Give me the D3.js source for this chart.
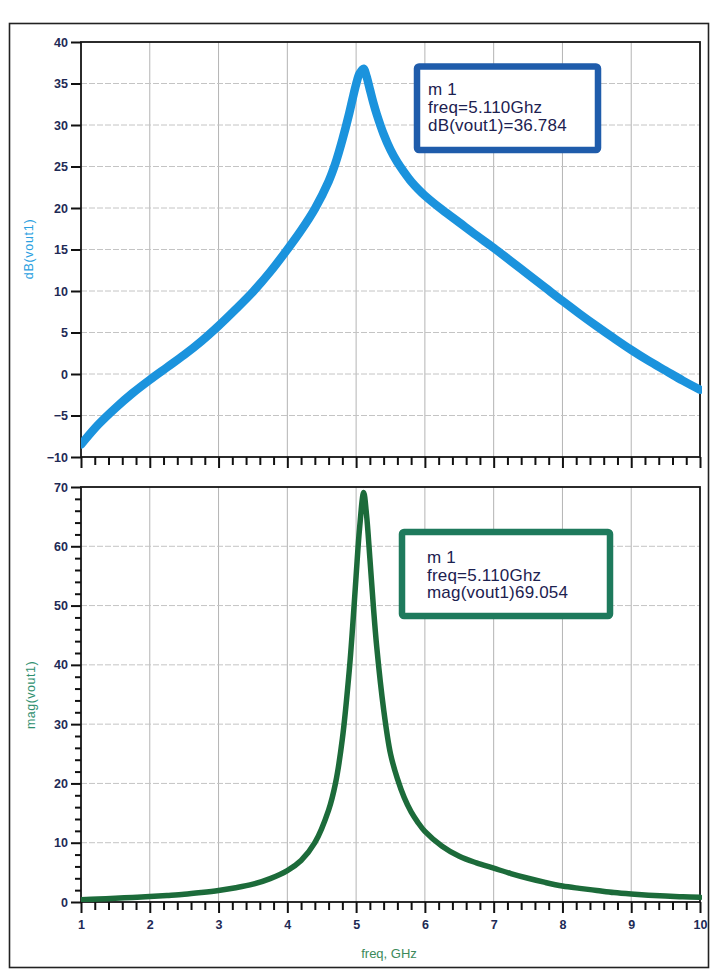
<!DOCTYPE html>
<html>
<head>
<meta charset="utf-8">
<script src="https://cdn.jsdelivr.net/npm/d3@7"></script>
<style>
  html, body { margin: 0; padding: 0; background: #fff; }
  svg { display: block; }
</style>
</head>
<body>
<svg id="chart" width="718" height="971"></svg>
<script>
// ---- data ----
const freqGHz = [1.0, 1.25, 1.5, 1.75, 2.0, 2.25, 2.5, 2.75, 3.0, 3.25, 3.5, 3.75, 4.0, 4.2, 4.4, 4.6, 4.7, 4.8, 4.9, 4.95, 5.0, 5.05, 5.11, 5.15, 5.2, 5.25, 5.3, 5.4, 5.5, 5.6, 5.7, 5.8, 5.9, 6.0, 6.25, 6.5, 6.75, 7.0, 7.25, 7.5, 7.75, 8.0, 8.25, 8.5, 8.75, 9.0, 9.25, 9.5, 9.75, 10.0];
const dbVout1 = [-8.5, -6.1, -4.1, -2.3, -0.7, 0.8, 2.3, 3.95, 5.8, 7.8, 9.9, 12.3, 15.0, 17.3, 19.9, 23.2, 25.4, 28.2, 31.4, 33.2, 34.9, 36.2, 36.784, 35.9, 34.3, 32.7, 31.3, 28.9, 27.0, 25.5, 24.3, 23.2, 22.3, 21.5, 19.8, 18.25, 16.7, 15.2, 13.6, 12.0, 10.4, 8.8, 7.25, 5.75, 4.3, 2.9, 1.6, 0.4, -0.8, -1.9];
const magVout1 = [0.38, 0.5, 0.63, 0.77, 0.92, 1.1, 1.3, 1.6, 1.95, 2.4, 3.0, 3.95, 5.3, 7.0, 10.0, 15.5, 20.0, 27.5, 39, 46.5, 55, 63, 69.054, 65.5, 58, 50, 43, 32.5, 25, 20.8, 17.6, 15.2, 13.4, 11.9, 9.4, 7.7, 6.6, 5.7, 4.8, 4.0, 3.3, 2.7, 2.3, 1.95, 1.6, 1.35, 1.15, 1.0, 0.88, 0.8];
const xTicks = [1, 2, 3, 4, 5, 6, 7, 8, 9, 10];
const dbTicks = [-10, -5, 0, 5, 10, 15, 20, 25, 30, 35, 40];
const magTicks = [0, 10, 20, 30, 40, 50, 60, 70];
const marker1Db = ["m 1", "freq=5.110Ghz", "dB(vout1)=36.784"];
const marker1Mag = ["m 1", "freq=5.110Ghz", "mag(vout1)69.054"];
const xLabel = "freq, GHz";
const dbLabel = "dB(vout1)";
const magLabel = "mag(vout1)";

// ---- layout ----
const svg = d3.select("#chart");
const L = 81, R = 700;
const top1 = 42, bot1 = 457;
const top2 = 487, bot2 = 902;
const font = "'Liberation Sans', Arial, sans-serif";
const tickColor = "#1e2a55";

// outer frame
svg.append("rect").attr("x", 9.5).attr("y", 23.5).attr("width", 699).attr("height", 944)
  .attr("fill", "none").attr("stroke", "#222").attr("stroke-width", 1.6);

const x = d3.scaleLinear().domain([1, 10]).range([L, R]);
const y1 = d3.scaleLinear().domain([-10, 40]).range([bot1, top1]);
const y2 = d3.scaleLinear().domain([0, 70]).range([bot2, top2]);

function panel(y, yTicks, yMinorStep, top, bot, showXLabels) {
  const g = svg.append("g");
  // grid
  g.selectAll(".vg").data(xTicks.slice(1, -1)).enter().append("line")
    .attr("x1", d => x(d)).attr("x2", d => x(d)).attr("y1", top).attr("y2", bot)
    .attr("stroke", "#b4b4b4").attr("stroke-width", 1);
  g.selectAll(".hg").data(yTicks.slice(1, -1)).enter().append("line")
    .attr("x1", L).attr("x2", R).attr("y1", d => y(d)).attr("y2", d => y(d))
    .attr("stroke", "#c4c4c4").attr("stroke-width", 1).attr("stroke-dasharray", "6,2");
  // frame
  g.append("rect").attr("x", L).attr("y", top).attr("width", R - L).attr("height", bot - top)
    .attr("fill", "none").attr("stroke", "#151515").attr("stroke-width", 1.8);

  // y axis
  const yAxis = d3.axisLeft(y).tickValues(yTicks).tickSize(10).tickPadding(3);
  const ya = g.append("g").attr("transform", `translate(${L},0)`).call(yAxis);
  ya.select(".domain").remove();
  ya.selectAll(".tick line").attr("stroke", "#111").attr("stroke-width", 2);
  ya.selectAll(".tick text").attr("font-family", font).attr("font-size", 12.5)
    .attr("font-weight", "bold").attr("fill", tickColor);
  if (yMinorStep) {
    const minors = d3.range(y.domain()[0], y.domain()[1] + 0.001, yMinorStep).filter(v => yTicks.indexOf(v) < 0);
    const yMinor = d3.axisLeft(y).tickValues(minors).tickSize(6).tickFormat("");
    const ym = g.append("g").attr("transform", `translate(${L},0)`).call(yMinor);
    ym.select(".domain").remove();
    ym.selectAll(".tick line").attr("stroke", "#111").attr("stroke-width", 2);
  }
  // x axis
  const xAxis = d3.axisBottom(x).tickValues(xTicks).tickSize(11).tickPadding(7)
    .tickFormat(showXLabels ? d3.format("d") : "");
  const xa = g.append("g").attr("transform", `translate(0,${bot})`).call(xAxis);
  xa.select(".domain").remove();
  xa.selectAll(".tick line").attr("stroke", "#111").attr("stroke-width", 2);
  xa.selectAll(".tick text").attr("font-family", font).attr("font-size", 12.5)
    .attr("font-weight", "bold").attr("fill", tickColor);
  const xMinors = d3.range(1, 10.001, 0.2).filter(v => Math.abs(v - Math.round(v)) > 0.01);
  const xm = g.append("g").attr("transform", `translate(0,${bot})`)
    .call(d3.axisBottom(x).tickValues(xMinors).tickSize(8).tickFormat(""));
  xm.select(".domain").remove();
  xm.selectAll(".tick line").attr("stroke", "#111").attr("stroke-width", 2);
  return g;
}

panel(y1, dbTicks, null, top1, bot1, false);
panel(y2, magTicks, 2, top2, bot2, true);

// curves
svg.append("clipPath").attr("id", "c1").append("rect")
  .attr("x", L).attr("y", top1 - 10).attr("width", R - L + 2).attr("height", bot1 - top1 + 10);
svg.append("clipPath").attr("id", "c2").append("rect")
  .attr("x", L).attr("y", top2 - 10).attr("width", R - L + 2).attr("height", bot2 - top2 + 10);

const smooth = d3.curveCatmullRom.alpha(0.5);
const line1 = d3.line().x((d, i) => x(freqGHz[i])).y(d => y1(d)).curve(smooth);
const line2 = d3.line().x((d, i) => x(freqGHz[i])).y(d => y2(d)).curve(smooth);

svg.append("path").datum(dbVout1).attr("d", line1).attr("clip-path", "url(#c1)")
  .attr("fill", "none").attr("stroke", "#1b93dd").attr("stroke-width", 8.5)
  .attr("stroke-linejoin", "round").attr("stroke-linecap", "round");
svg.append("path").datum(magVout1).attr("d", line2).attr("clip-path", "url(#c2)")
  .attr("fill", "none").attr("stroke", "#1c6b3a").attr("stroke-width", 5.5)
  .attr("stroke-linejoin", "round").attr("stroke-linecap", "round");

// marker boxes
function markerBox(bx, by, bw, bh, color, lines, tx, ty0, dy) {
  svg.append("rect").attr("x", bx).attr("y", by).attr("width", bw).attr("height", bh)
    .attr("rx", 2).attr("fill", "#fff").attr("stroke", color).attr("stroke-width", 6.5);
  svg.append("g").selectAll("text").data(lines).enter().append("text")
    .attr("x", tx).attr("y", (d, i) => ty0 + i * dy)
    .attr("font-family", font).attr("font-size", 17).attr("letter-spacing", 0.2)
    .attr("fill", "#1c2150").text(d => d);
}
markerBox(417, 66.5, 181, 83.5, "#1f5cab", marker1Db, 428, 95, 18.2);
markerBox(402, 532, 208, 84, "#1e7a5c", marker1Mag, 427, 563, 17.6);

// axis titles
svg.append("text").attr("transform", "translate(33,249) rotate(-90)")
  .attr("text-anchor", "middle").attr("font-family", font).attr("font-size", 12.5)
  .attr("letter-spacing", 0.7).attr("fill", "#2aa0e0").text(dbLabel);
svg.append("text").attr("transform", "translate(35,695) rotate(-90)")
  .attr("text-anchor", "middle").attr("font-family", font).attr("font-size", 12.5)
  .attr("letter-spacing", 0.5).attr("fill", "#2f9070").text(magLabel);
svg.append("text").attr("x", 389).attr("y", 958).attr("text-anchor", "middle")
  .attr("font-family", font).attr("font-size", 13).attr("fill", "#3c8a5a").text(xLabel);
</script>
</body>
</html>
